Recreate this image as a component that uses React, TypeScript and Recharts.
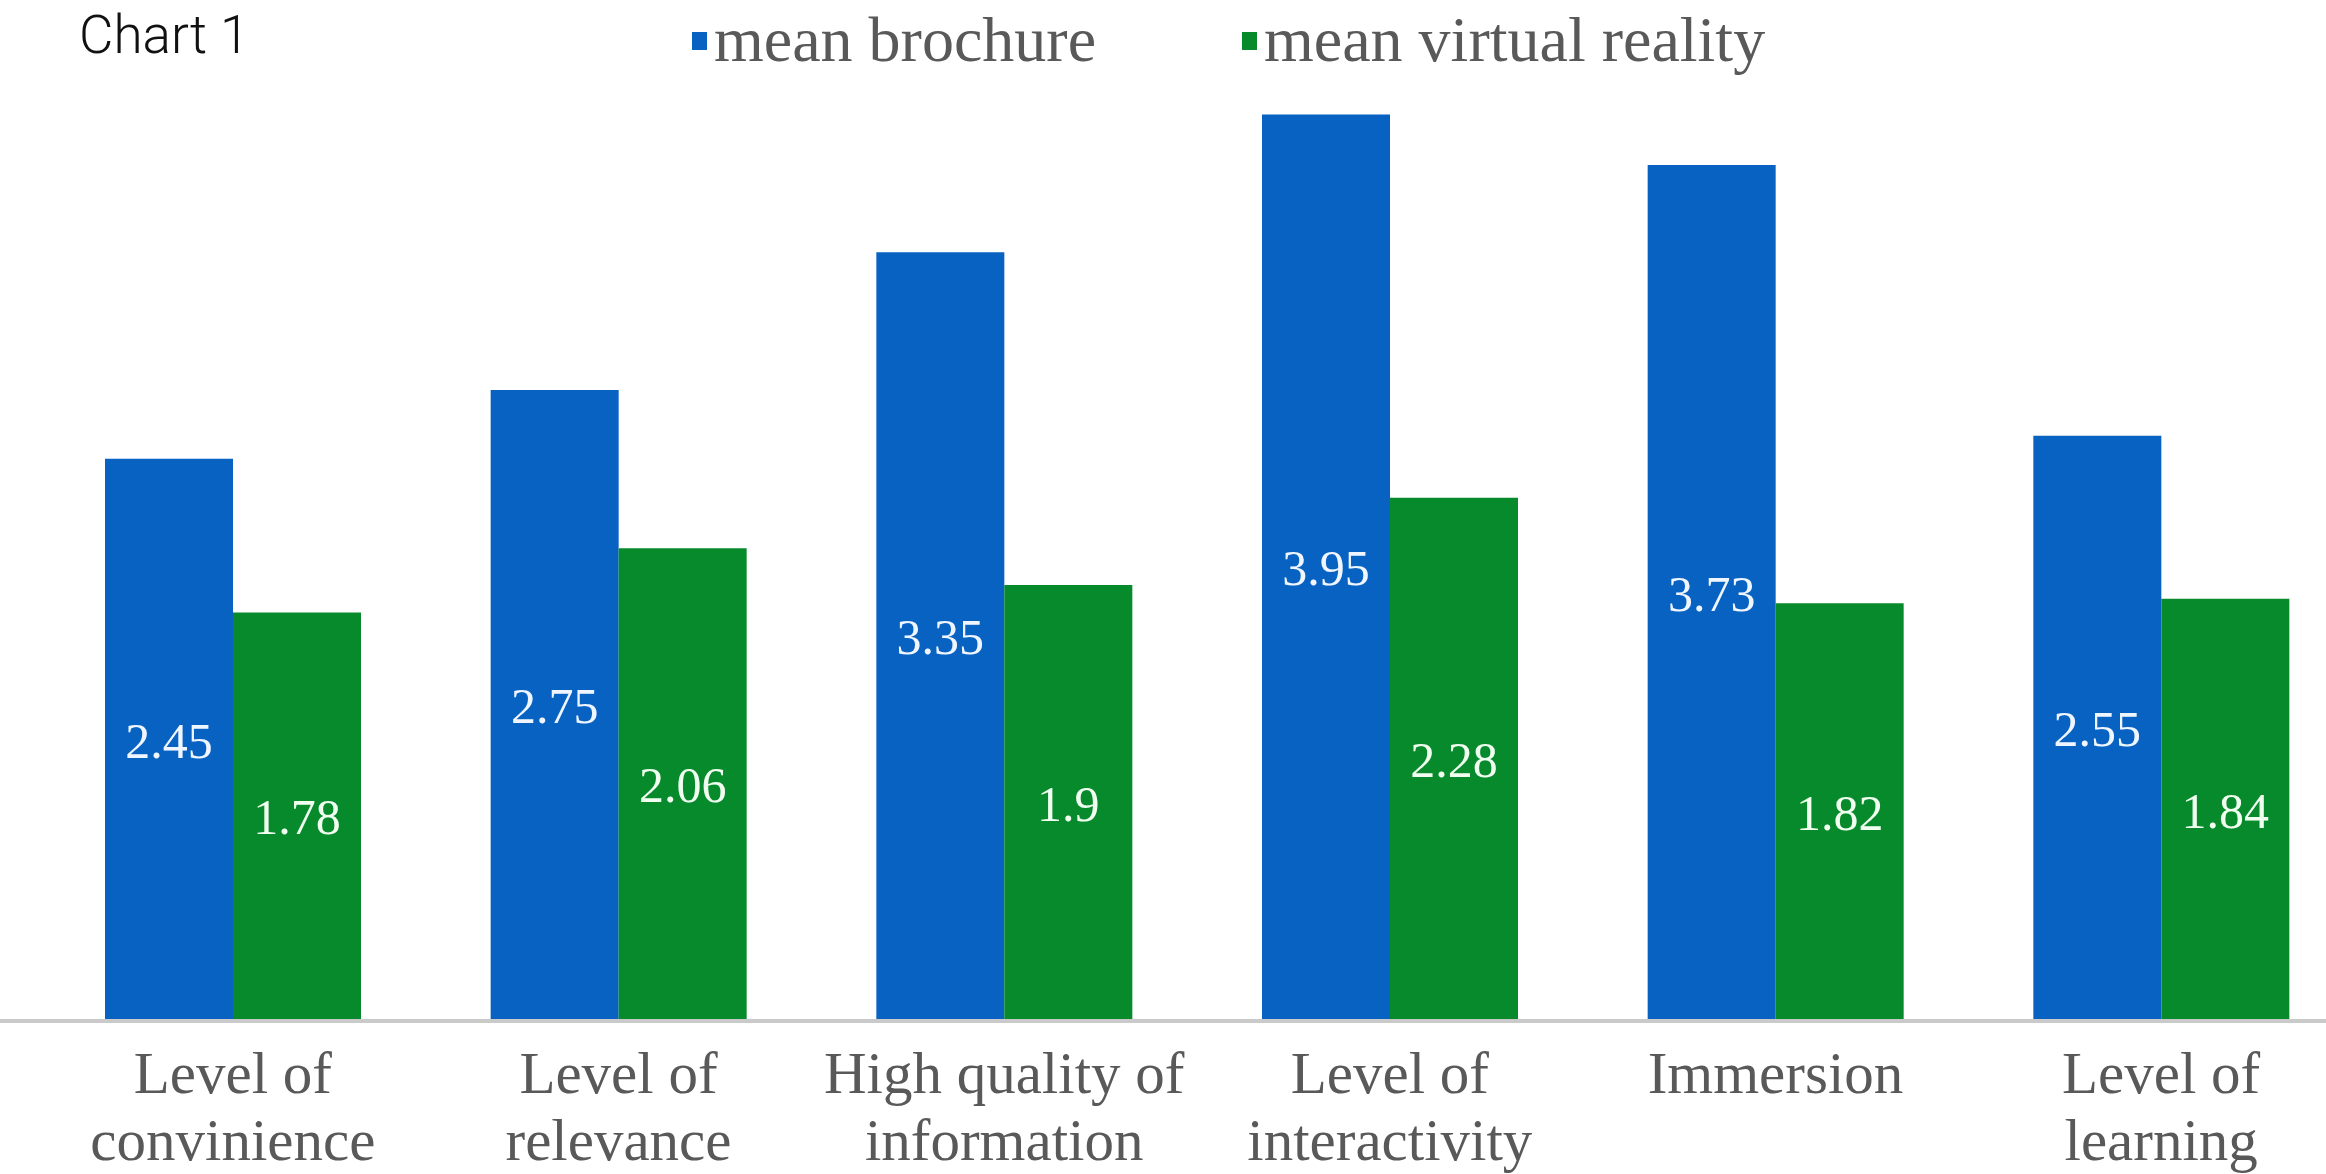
import { BarChart, Bar, XAxis, YAxis, Legend, LabelList } from "recharts"

const categories = [
  "Level of\nconvinience",
  "Level of\nrelevance",
  "High quality of\ninformation",
  "Level of\ninteractivity",
  "Immersion",
  "Level of\nlearning",
]
const meanBrochure = [2.45, 2.75, 3.35, 3.95, 3.73, 2.55]
const meanVirtualReality = [1.78, 2.06, 1.9, 2.28, 1.82, 1.84]

const BLUE = "#0862c2"
const GREEN = "#078a2c"
const SERIF = "'Liberation Serif', 'Times New Roman', serif"

const data = categories.map((name, i) => ({
  name,
  brochure: meanBrochure[i],
  vr: meanVirtualReality[i],
}))

// legend item x positions (marker left edge)
const LEGEND_X = [692, 1242]

const CategoryTick = ({ x, y, payload }: any) => {
  const lines = String(payload.value).split("\n")
  return (
    <text textAnchor="middle" fontFamily={SERIF} fontSize={59} fill="#595959">
      {lines.map((line, i) => (
        <tspan key={i} x={x} y={y + 72 + i * 67}>
          {line}
        </tspan>
      ))}
    </text>
  )
}

const LegendContent = ({ payload }: any) => (
  <svg width={2326} height={100} style={{ display: "block" }}>
    {(payload || []).map((entry: any, i: number) => (
      <g key={i}>
        <rect x={LEGEND_X[i]} y={32} width={15} height={18} fill={entry.color} />
        <text x={LEGEND_X[i] + 22} y={61} fontFamily={SERIF} fontSize={64} fill="#595959">
          {entry.value}
        </text>
      </g>
    ))}
  </svg>
)

export default function App() {
  return (
    <div
      style={{
        position: "absolute",
        top: 0,
        left: 0,
        width: 2326,
        height: 1174,
        overflow: "hidden",
        background: "#fff",
      }}
    >
      <BarChart
        width={2354}
        height={1174}
        data={data}
        margin={{ top: 3, right: 0, left: 0, bottom: 13 }}
        barGap={0}
      >
        <XAxis
          dataKey="name"
          height={140}
          interval={0}
          tickLine={false}
          tickSize={0}
          tickMargin={0}
          axisLine={{ stroke: "#cacaca", strokeWidth: 4 }}
          padding={{ left: 40, right: 0 }}
          tick={<CategoryTick />}
        />
        <YAxis hide domain={[0, 4]} />
        <Legend
          verticalAlign="top"
          content={<LegendContent />}
          wrapperStyle={{ position: "absolute", top: 0, left: 0, width: 2326, height: 100 }}
        />
        <Bar dataKey="brochure" name="mean brochure" fill={BLUE} barSize={128} isAnimationActive={false}>
          <LabelList dataKey="brochure" position="center" fill="#f0f6ff" fontSize={50} fontFamily={SERIF} />
        </Bar>
        <Bar dataKey="vr" name="mean virtual reality" fill={GREEN} barSize={128} isAnimationActive={false}>
          <LabelList dataKey="vr" position="center" fill="#f0fff0" fontSize={50} fontFamily={SERIF} />
        </Bar>
      </BarChart>
      <svg width={400} height={100} style={{ position: "absolute", top: 0, left: 0 }}>
        <text x={79} y={53} fontFamily="Roboto, 'Liberation Sans', sans-serif" fontWeight={300} fontSize={53} fill="#111">
          Chart 1
        </text>
      </svg>
    </div>
  )
}
